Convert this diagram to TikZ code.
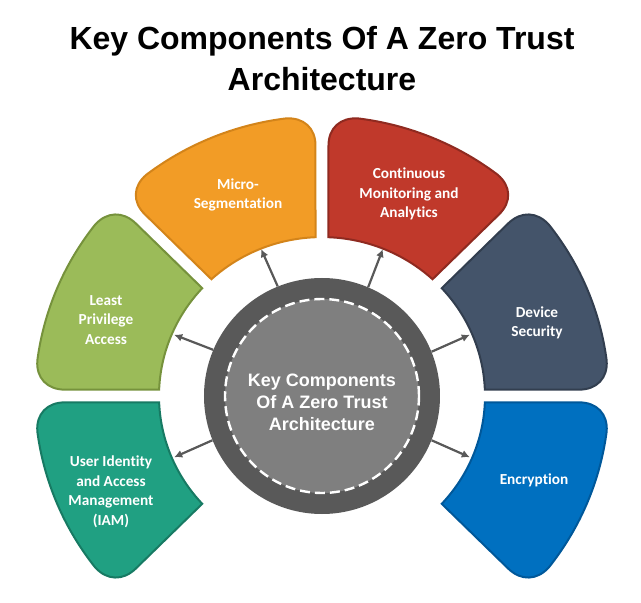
\documentclass[tikz,border=0pt]{standalone}
\usepackage{fontspec}
\setmainfont{Liberation Sans}
\newfontfamily\labelfont{Carlito}[BoldFont={Carlito Bold},Ligatures=NoCommon]
\usepackage{tikz}
\usetikzlibrary{calc,arrows.meta}

\definecolor{hubring}{HTML}{595959}
\definecolor{hubfill}{HTML}{7F7F7F}
\definecolor{orangefill}{HTML}{F29C26}
\definecolor{orangeline}{HTML}{D3841A}
\definecolor{redfill}{HTML}{C0392B}
\definecolor{redline}{HTML}{8F2A20}
\definecolor{slatefill}{HTML}{44546A}
\definecolor{slateline}{HTML}{323E4F}
\definecolor{bluefill}{HTML}{0070C0}
\definecolor{blueline}{HTML}{00589A}
\definecolor{tealfill}{HTML}{20A082}
\definecolor{tealline}{HTML}{177A63}
\definecolor{greenfill}{HTML}{9BBB59}
\definecolor{greenline}{HTML}{76923C}

\begin{document}
\begin{tikzpicture}[x=1pt,y=1pt]
\tikzset{seglabel/.style = {text=white,align=center,inner sep=0pt,font=\labelfont\bfseries\fontsize{15.3}{19.5}\selectfont}}
\tikzset{link/.style = {draw=hubring,line width=2.2pt,-{Latex[length=8pt,width=8pt]}}}
\tikzset{pics/segment/.style n args = {4}{code={
  \pgfmathsetmacro\dinner{asin(\seggap/\segin)}
  \pgfmathsetmacro\douter{asin(\seggap/\segout)}
  \pgfmathsetmacro\tout{\segout*cos(\douter)-\segcorner}
  \pgfmathsetmacro\segturn{deg(\segcorner/\segout)}
  \path[fill=#3,draw=#4,line width=2pt]
    (#1+\dinner:\segin) -- ($(#1:\tout)+(#1+90:\seggap)$) coordinate (s1)
    .. controls ($(s1)!0.6!(#1+\douter:\segout)$) and ($(#1+\douter+\segturn:\segout)!0.6!(#1+\douter:\segout)$)
    .. (#1+\douter+\segturn:\segout)
    arc[start angle=#1+\douter+\segturn,end angle=#2-\douter-\segturn,radius=\segout]
    coordinate (s2)
    .. controls ($(s2)!0.6!(#2-\douter:\segout)$) and ($($(#2:\tout)+(#2-90:\seggap)$)!0.6!(#2-\douter:\segout)$)
    .. ($(#2:\tout)+(#2-90:\seggap)$)
    -- (#2-\dinner:\segin)
    arc[start angle=#2-\dinner,end angle=#1+\dinner,radius=\segin]
    -- cycle;
}}}
\def\segin{163}
\def\segout{287}
\def\seggap{6.5}
\def\segcorner{30}
\useasboundingbox (-322,-207) rectangle (319,396);
% title
\node[font=\bfseries\fontsize{32}{41}\selectfont,align=center,inner sep=0pt] (title) at (0,337) {Key Components Of A Zero Trust\\Architecture};
% segments
\pic[yscale=0.975] {segment={-45}{0}{bluefill}{blueline}};
\pic[yscale=0.975] {segment={0}{45}{slatefill}{slateline}};
\pic[yscale=0.975] {segment={45}{90}{redfill}{redline}};
\pic[yscale=0.975] {segment={90}{135}{orangefill}{orangeline}};
\pic[yscale=0.975] {segment={135}{180}{greenfill}{greenline}};
\pic[yscale=0.975] {segment={180}{225}{tealfill}{tealline}};
% hub
\node[circle,fill=hubring,minimum size=236pt,inner sep=0pt] (hub) at (0,0) {};
\node[circle,fill=hubfill,draw=white,line width=2.4pt,dash pattern=on 10pt off 5pt,minimum size=194pt,inner sep=0pt] (core) at (0,0) {};
\node[font=\bfseries\fontsize{18}{21.7}\selectfont,text=white,align=center,inner sep=0pt] (hubtext) at (0,-6.5) {Key Components\\Of A Zero Trust\\Architecture};
% labels
\node[seglabel] (micro) at (-84,201) {Micro-\\Segmentation};
\node[seglabel] (monitoring) at (87,202) {Continuous\\Monitoring and\\Analytics};
\node[seglabel] (least) at (-216,76) {Least\\Privilege\\Access};
\node[seglabel] (device) at (215,73) {Device\\Security};
\node[seglabel] (iam) at (-211,-96) {User Identity\\and Access\\Management\\(IAM)};
\node[seglabel] (encryption) at (212,-84) {Encryption};
% arrow ends
\coordinate (micro-edge) at (112.5:159);
\coordinate (monitoring-edge) at (67.5:159);
\coordinate (least-edge) at (157.5:160);
\coordinate (device-edge) at (22.5:160);
\coordinate (iam-edge) at (202.5:160);
\coordinate (encryption-edge) at (-22.5:160);
% arrows
\draw[link] (hub.112.5) -- (micro-edge);
\draw[link] (hub.67.5) -- (monitoring-edge);
\draw[link] (hub.157.5) -- (least-edge);
\draw[link] (hub.22.5) -- (device-edge);
\draw[link] (hub.202.5) -- (iam-edge);
\draw[link] (hub.-22.5) -- (encryption-edge);
\end{tikzpicture}
\end{document}
